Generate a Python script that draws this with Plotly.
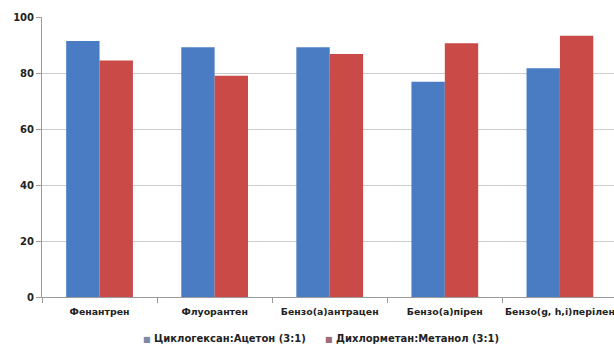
import plotly.graph_objects as go

categories = ["Фенантрен", "Флуорантен", "Бензо(а)антрацен", "Бензо(а)пірен", "Бензо(g, h,i)перілен"]
series1_name = "Циклогексан:Ацетон (3:1)"
series1 = [91.4, 89.2, 89.2, 76.9, 81.7]
series2_name = "Дихлорметан:Метанол (3:1)"
series2 = [84.5, 79.0, 86.8, 90.6, 93.3]
y_ticks = [0, 20, 40, 60, 80, 100]
colors = ["#4A7CC4", "#C94A47"]
legend_marker_colors = ["#7f88a4", "#a06c78"]

fig = go.Figure()
fig.add_bar(x=categories, y=series1, name=series1_name, marker=dict(color=colors[0], line=dict(width=0)))
fig.add_bar(x=categories, y=series2, name=series2_name, marker=dict(color=colors[1], line=dict(width=0)))

tf = dict(family="DejaVu Sans", size=10, color="#222222", weight="bold")
xf = dict(family="DejaVu Sans", size=9.4, color="#222222", weight="bold")
lf = dict(family="DejaVu Sans", size=10, color="#222222", weight="bold")

# legend drawn as text below the plot
legend_x = [0.173, 0.491]
for name, mc, lx in zip([series1_name, series2_name], legend_marker_colors, legend_x):
    fig.add_annotation(text=f"<span style='color:{mc};font-size:8px'>■</span> {name}",
                       xref="paper", yref="paper", x=lx, y=-0.148, xanchor="left", yanchor="middle",
                       showarrow=False, font=lf)

fig.update_layout(
    width=614, height=345,
    margin=dict(l=42, r=0, t=17, b=48),
    paper_bgcolor="white", plot_bgcolor="white",
    barmode="group", bargap=0.42, bargroupgap=0,
    font=tf,
    showlegend=False,
    xaxis=dict(range=[-0.5, 4.47], showline=True, linecolor="#9a9a9a", linewidth=1,
               ticks="outside", tickson="boundaries", ticklen=5, tickcolor="#9a9a9a",
               tickfont=xf, tickangle=0, automargin=False, showgrid=False,
               ticklabelstandoff=6),
    yaxis=dict(range=[0, 100], tickvals=y_ticks, showline=True, linecolor="#9a9a9a", linewidth=1,
               ticks="outside", ticklen=5, tickcolor="#9a9a9a", automargin=False,
               gridcolor="#cccccc", gridwidth=1, zeroline=False, tickfont=tf),
)

fig.write_html("out.html")
